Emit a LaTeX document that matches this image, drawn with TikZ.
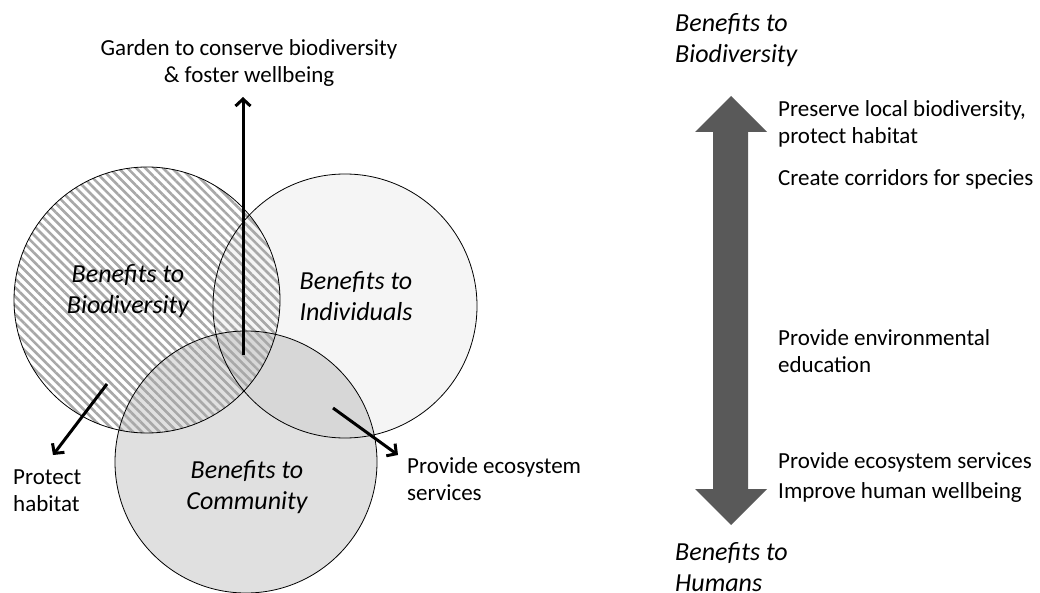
\documentclass[tikz,border=0pt]{standalone}
\usepackage{fontspec}
\setmainfont{Carlito}
\usetikzlibrary{arrows.meta,patterns.meta}

\definecolor{arrowgray}{HTML}{595959}
\definecolor{hatchgray}{HTML}{A8A8A8}

\tikzset{
  txt/.style={inner sep=0pt, font=\fontsize{23}{27}\selectfont},
  setname/.style={inner sep=0pt, align=center, font=\fontsize{26}{31}\selectfont\itshape},
  pointer/.style={line width=3pt, -{Straight Barb[length=7pt,width=15pt]}},
  rim/.style={line width=0.8pt},
}

\begin{document}
\begin{tikzpicture}[x=1pt, y=-1pt]
  \useasboundingbox (0,0) rectangle (1040,593);

  % the three sets
  \fill[black, fill opacity=0.04] (345,306) circle (132);
  \fill[black, fill opacity=0.12] (246,462) circle (131);
  \fill[pattern={Lines[angle=-45, distance=6.3pt, line width=2.6pt]}, pattern color=hatchgray]
    (147,300) circle (133);
  \draw[rim] (147,300) circle (133);
  \draw[rim] (345,306) circle (132);
  \draw[rim] (246,462) circle (131);

  \node[setname] (bio) at (128,291) {Benefits to\\Biodiversity};
  \node[setname] (ind) at (356,296) {Benefits to\\Individuals};
  \node[setname] (com) at (247,487) {Benefits to\\Community};

  % what each region leads to
  \node[txt, align=center] (garden) at (249,63) {Garden to conserve biodiversity\\\& foster wellbeing};
  \node[txt, align=left, anchor=west] (habitat) at (13,491) {Protect\\habitat};
  \node[txt, align=left, anchor=west] (services) at (407,479) {Provide ecosystem\\services};

  \coordinate (centre) at (243,355);
  \coordinate (gardentip) at (243,97);
  \coordinate (biotail) at (107,384);
  \coordinate (biotip) at (53,455);
  \coordinate (comtail) at (333,408);
  \coordinate (comtip) at (398,455);

  \draw[pointer] (centre) -- (gardentip);
  \draw[pointer] (biotail) -- (biotip);
  \draw[pointer] (comtail) -- (comtip);

  % scale from biodiversity to humans
  \fill[arrowgray] (731,96) -- (767,132) -- (748,132) -- (748,489) -- (767,489)
    -- (731,525) -- (695,489) -- (713,489) -- (713,132) -- (695,132) -- cycle;

  \node[setname, align=left, anchor=west] (top) at (675,40) {Benefits to\\Biodiversity};
  \node[setname, align=left, anchor=west] (bottom) at (675,567) {Benefits to\\Humans};

  \node[txt, align=left, anchor=west] (preserve) at (778,124) {Preserve local biodiversity,\\protect habitat};
  \node[txt, anchor=west] (corridors) at (778,179) {Create corridors for species};
  \node[txt, align=left, anchor=west] (education) at (778,351) {Provide environmental\\education};
  \node[txt, anchor=west] (ecosystem) at (778,462) {Provide ecosystem services};
  \node[txt, anchor=west] (wellbeing) at (778,492) {Improve human wellbeing};
\end{tikzpicture}
\end{document}
